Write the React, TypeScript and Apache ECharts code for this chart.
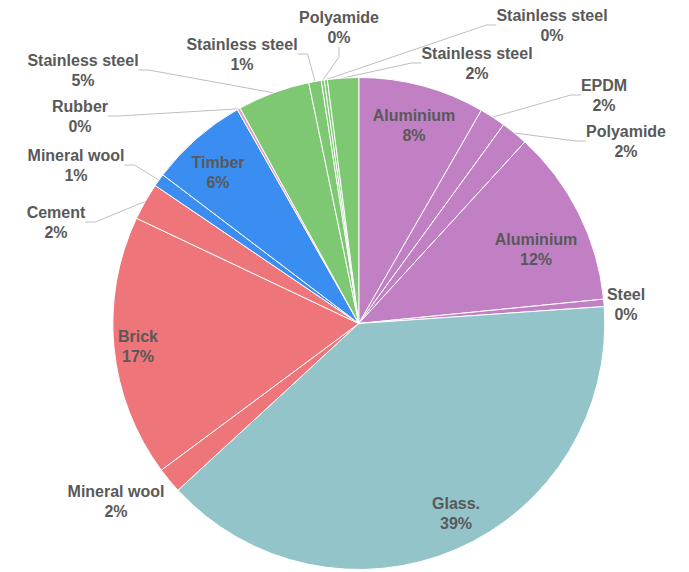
import React, { useEffect, useRef } from 'react';
import * as echarts from 'echarts';

// Slices, clockwise from 12 o'clock
const categories = [
  'Aluminium', 'EPDM', 'Polyamide', 'Aluminium', 'Steel', 'Glass.',
  'Mineral wool', 'Brick', 'Cement', 'Mineral wool', 'Timber', 'Rubber',
  'Stainless steel', 'Stainless steel', 'Polyamide', 'Stainless steel', 'Stainless steel',
];
const shares = [
  8.30, 1.72, 1.77, 11.63, 0.48, 39.24,
  1.69, 17.20, 2.44, 0.85, 6.45, 0.20,
  4.76, 0.82, 0.20, 0.20, 2.04,
];
const sliceColors = [
  '#C17FC4', '#C17FC4', '#C17FC4', '#C17FC4', '#C17FC4', '#92C4CA',
  '#EE757A', '#EE757A', '#EE757A', '#3B8EF1', '#3B8EF1', '#DDA0C8',
  '#7EC873', '#7EC873', '#7EC873', '#7EC873', '#7EC873',
];
const showLeader = [
  false, true, true, false, false, false,
  false, false, true, true, false, true,
  true, true, true, true, true,
];
// label block centres (layout only)
const labelCenters: [number, number][] = [
  [414, 125], [604, 95], [626, 141], [536, 249], [626, 304], [456, 513],
  [116, 501], [138, 346], [56, 222], [76, 165], [218, 172], [80, 116],
  [83, 70], [242, 54], [339, 27], [552, 25], [477, 63],
];

export default function App() {
  const ref = useRef<HTMLDivElement>(null);
  useEffect(() => {
    if (!ref.current) return;
    const chart = echarts.init(ref.current, null, { renderer: 'svg' });
    const data = categories.map((name, i) => ({
      name,
      value: shares[i],
      itemStyle: { color: sliceColors[i] },
      labelLine: { show: showLeader[i] },
    }));
    chart.setOption({
      animation: false,
      backgroundColor: '#ffffff',
      series: [
        {
          type: 'pie',
          center: [358.8, 323.5],
          radius: 246,
          startAngle: 90,
          clockwise: true,
          avoidLabelOverlap: false,
          itemStyle: { borderColor: '#ffffff', borderWidth: 1 },
          label: {
            show: true,
            position: 'outside',
            formatter: (p: any) => `${p.name}\n${Math.round(p.percent)}%`,
            color: '#595959',
            fontSize: 16,
            fontWeight: 'bold',
            fontFamily: '"Liberation Sans", Arial, sans-serif',
            lineHeight: 20,
            align: 'center',
          },
          labelLine: {
            show: true,
            length: 10,
            length2: 10,
            lineStyle: { color: '#BFBFBF', width: 1 },
          },
          labelLayout: (params: any) => {
            const c = labelCenters[params.dataIndex];
            return { x: c[0], y: c[1], align: 'center', verticalAlign: 'middle' };
          },
          emphasis: { disabled: true },
          data,
        },
      ],
    });
    return () => chart.dispose();
  }, []);
  return (
    <div
      ref={ref}
      style={{ position: 'fixed', left: 0, top: 0, width: 689, height: 572 }}
    />
  );
}
